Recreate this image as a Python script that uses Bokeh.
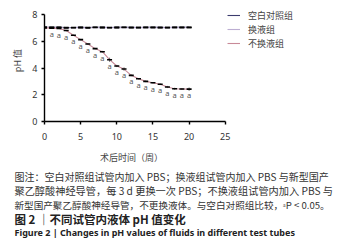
from bokeh.plotting import figure
from bokeh.layouts import column, row
from bokeh.models import Range1d, Legend, LegendItem, ColumnDataSource, FixedTicker, Whisker
from bokeh.core.properties import value
from bokeh.embed import file_html
from bokeh.resources import INLINE

weeks = list(range(0, 21))
control = [7.05, 7.04, 7.05, 7.03, 7.03, 7.04, 7.03, 7.05, 7.04, 7.03, 7.04,
           7.05, 7.04, 7.03, 7.04, 7.05, 7.04, 7.03, 7.04, 7.05, 7.04]
replace = [7.05, 7.02, 7.03, 7.00, 7.01, 7.02, 7.00, 7.03, 7.02, 7.01, 7.02,
           7.03, 7.01, 7.02, 7.03, 7.02, 7.01, 7.02, 7.03, 7.02, 7.03]
noreplace = [7.00, 6.98, 6.95, 6.80, 6.45, 6.12, 5.80, 5.45, 5.22, 4.62, 4.15,
             3.92, 3.45, 3.20, 3.00, 2.90, 2.78, 2.58, 2.45, 2.43, 2.42]
noreplace_err = [0.02, 0.03, 0.03, 0.05, 0.04, 0.05, 0.04, 0.05, 0.06, 0.15, 0.08,
                 0.12, 0.06, 0.05, 0.06, 0.05, 0.06, 0.08, 0.07, 0.07, 0.12]
sig_mark = [""] + ["a"] * 20
series_names = ["空白对照组", "换液组", "不换液组"]
series_colors = ["#3c3c6e", "#bcaed2", "#c88a98"]
x_ticks = [0, 5, 10, 15, 20, 25]
y_ticks = [0, 2, 4, 6, 8]
x_title = "术后时间（周）"
y_title = "pH 值"
caption = [
    "图注：空白对照组试管内加入 PBS；换液组试管内加入 PBS 与新型国产",
    "聚乙醇酸神经导管，每 3 d 更换一次 PBS；不换液组试管内加入 PBS 与",
    "新型国产聚乙醇酸神经导管，不更换液体。与空白对照组比较，ᵃP < 0.05。",
]
fig_title_cn = "图 2 ｜不同试管内液体 pH 值变化"
fig_title_en = "Figure 2  |  Changes in pH values of fluids in different test tubes"

CJK = "Noto Sans CJK SC"
DX = 8  # horizontal page offset of the layout
TOTAL_W, TOP_H, CAP_H, LEFT_W = 342, 145, 97, 27
FRAME_L = 52 - DX  # frame left edge inside the layout


def blank(w, h):
    f = figure(width=w, height=h, output_backend="svg", toolbar_location=None,
               x_axis_type=None, y_axis_type=None,
               x_range=Range1d(0, w), y_range=Range1d(h, 0),
               min_border=0)
    f.grid.visible = False
    f.outline_line_color = None
    f.background_fill_color = "white"
    f.border_fill_color = "white"
    return f


# --- y title panel ---
yfig = blank(LEFT_W, TOP_H)
yfig.text(x=[25 - DX], y=[72], text=[y_title], angle=1.5708, text_font=value(CJK),
          text_font_size="9px", text_color="#444444", text_align="center",
          text_baseline="middle")

# --- main chart ---
chart_w = TOTAL_W - LEFT_W
frame_w = chart_w - (FRAME_L - LEFT_W)
p = figure(width=chart_w, height=TOP_H, output_backend="svg", toolbar_location=None,
           x_range=Range1d(0, frame_w / 7.23), y_range=Range1d(0, 121 / 13.375),
           min_border_left=FRAME_L - LEFT_W, min_border_right=0, min_border_top=0,
           min_border_bottom=TOP_H - 121)
p.outline_line_color = None
p.xgrid.visible = False
p.ygrid.visible = False
p.background_fill_color = "white"
p.border_fill_color = "white"

for ax, ticks, bounds in ((p.xaxis, x_ticks, (0, 25)), (p.yaxis, y_ticks, (0, 8))):
    ax.ticker = FixedTicker(ticks=ticks)
    ax.bounds = bounds
    ax.axis_line_color = "black"
    ax.axis_line_width = 1.4
    ax.major_tick_line_color = "black"
    ax.major_tick_line_width = 1.4
    ax.major_tick_in = 0
    ax.major_tick_out = 3
    ax.minor_tick_line_color = None
    ax.major_label_text_font = "Noto Sans"
    ax.major_label_text_font_size = "9px"
    ax.major_label_text_color = "#333333"
p.xaxis.major_label_standoff = 8
p.yaxis.major_label_standoff = 4

src = ColumnDataSource(dict(x=weeks, c=control, r=replace, n=noreplace,
                            lo=[v - e for v, e in zip(noreplace, noreplace_err)],
                            hi=[v + e for v, e in zip(noreplace, noreplace_err)],
                            s=sig_mark))

renderers = []
for col, color in zip(["c", "r", "n"], series_colors):
    renderers.append(p.line("x", col, source=src, line_color=color, line_width=1.1))

p.add_layout(Whisker(base="x", lower="lo", upper="hi", source=src, line_color="#333333",
                     line_width=0.8, upper_head=None, lower_head=None))
for col in ["c", "r", "n"]:
    p.scatter("x", col, source=src, marker="dash", size=5, line_color="black", line_width=1.6)

p.text("x", "n", text="s", source=src, text_font=value("Noto Sans"), text_font_size="7.5px",
       text_color="#555555", text_align="center", text_baseline="middle", y_offset=6)

legend = Legend(items=[LegendItem(label=n, renderers=[r]) for n, r in zip(series_names, renderers)],
                location=(235 - 52, 121 - 8 - 42), orientation="vertical",
                padding=0, margin=0, spacing=0, glyph_width=13, glyph_height=14,
                label_height=14, label_standoff=8, border_line_color=None,
                background_fill_alpha=0,
                label_text_font=CJK, label_text_font_size="9px",
                label_text_color="#444444")
p.add_layout(legend)

# --- caption panel (data y = page y - TOP_H, data x = page x - DX) ---
cap = blank(TOTAL_W, CAP_H)
cap.text(x=[139 - DX], y=[157 - TOP_H], text=[x_title], text_font=value(CJK), text_font_size="9px",
         text_color="#444444", text_align="center", text_baseline="middle")
cap.text(x=[22 - DX], y=[176 - TOP_H], text=caption[:1],
         text_font=value(CJK), text_font_size="10px", text_color="#333333",
         text_align="left", text_baseline="middle")
cap.text(x=[22 - DX], y=[190 - TOP_H], text=caption[1:2],
         text_font=value(CJK), text_font_size="10.2px", text_color="#333333",
         text_align="left", text_baseline="middle")
cap.text(x=[22 - DX], y=[204 - TOP_H], text=caption[2:],
         text_font=value(CJK), text_font_size="9.6px", text_color="#333333",
         text_align="left", text_baseline="middle")
cap.text(x=[22 - DX], y=[218 - TOP_H], text=[fig_title_cn], text_font=value(CJK),
         text_font_size="11.5px", text_font_style="bold", text_color="#222222",
         text_align="left", text_baseline="middle")
cap.text(x=[22 - DX], y=[232 - TOP_H], text=[fig_title_en], text_font=value("Noto Sans"),
         text_font_size="9px", text_font_style="bold", text_color="#222222",
         text_align="left", text_baseline="middle")

layout = column(row(yfig, p, spacing=0), cap, spacing=0)
open("out.html", "w").write(file_html(layout, INLINE))
